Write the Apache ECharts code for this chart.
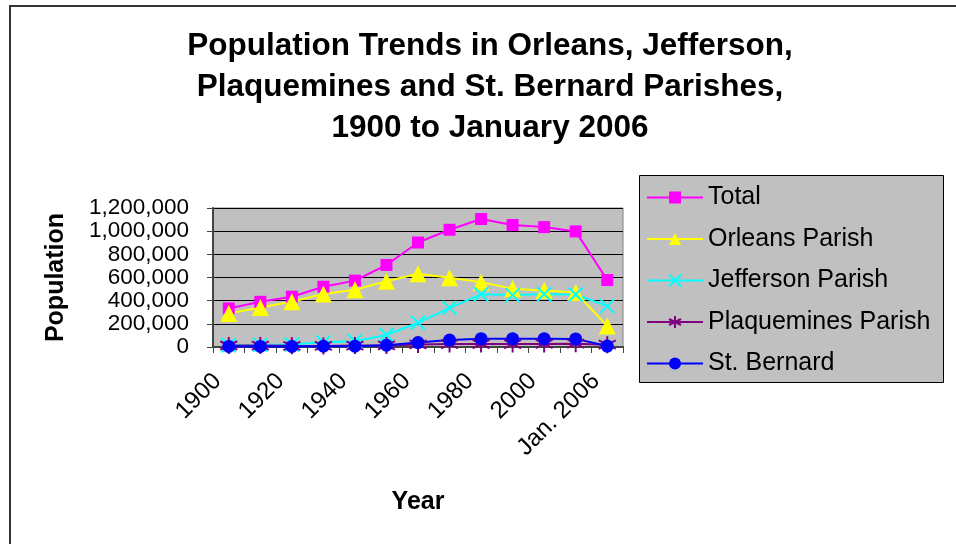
<!DOCTYPE html>
<html>
<head>
<meta charset="utf-8">
<script src="https://cdn.jsdelivr.net/npm/echarts@6/dist/echarts.min.js"></script>
<style>
  html, body { margin: 0; padding: 0; background: #fff; }
  #chart { width: 956px; height: 544px; }
</style>
</head>
<body>
<div id="chart"></div>
<script>
// Census years (every other one labelled on the axis)
const years = ['1900', '1910', '1920', '1930', '1940', '1950', '1960', '1970', '1980', '1990', '2000', '2005', 'Jan. 2006'];

// Population by parish
const total       = [333000, 390000, 434000, 520000, 573000, 708000, 902000, 1012000, 1105000, 1053000, 1035000, 998000, 578000];
const orleans     = [289000, 341000, 390000, 457000, 494000, 568000, 632000, 598000, 560000, 502000, 488000, 470000, 182000];
const jefferson   = [15000, 18000, 22000, 40000, 50000, 104000, 209000, 338000, 455000, 448000, 455000, 453000, 353000];
const plaquemines = [13000, 12500, 10000, 9600, 12000, 14000, 22500, 25000, 26000, 25500, 26800, 29000, 20000];
const stBernard   = [5000, 5300, 5000, 6500, 7300, 15000, 38000, 60000, 72000, 72000, 72000, 70000, 8000];

// Y axis ticks
const yMin = 0, yMax = 1200000, yStep = 200000;

const FONT = '"Liberation Sans", Arial, sans-serif';

// Stroke-only marker shapes
const crossPath = 'path://M0,0L10,10M10,0L0,10';
const starPath = 'path://M5,0L5,10M0.7,2.5L9.3,7.5M0.7,7.5L9.3,2.5';

function lineSeries(name, data, color, symbol, size, strokeOnly) {
  return {
    name: name,
    type: 'line',
    data: data,
    symbol: symbol,
    symbolSize: size,
    showAllSymbol: true,
    lineStyle: { color: color, width: 2 },
    itemStyle: strokeOnly
      ? { color: 'none', borderColor: color, borderWidth: 2 }
      : { color: color, borderWidth: 0 },
    emphasis: { disabled: true },
    animation: false
  };
}

const chart = echarts.init(document.getElementById('chart'), null, { renderer: 'canvas' });

chart.setOption({
  backgroundColor: '#ffffff',
  animation: false,
  title: {
    text: 'Population Trends in Orleans, Jefferson,\nPlaquemines and St. Bernard Parishes,\n1900 to January 2006',
    left: 485,
    top: 21,
    textAlign: 'center',
    textStyle: {
      fontFamily: FONT,
      fontWeight: 'bold',
      fontSize: 31.5,
      lineHeight: 41,
      color: '#000'
    }
  },
  graphic: [
    {
      type: 'polyline',
      z: 100,
      shape: { points: [[10, 560], [10, 6], [960, 6]] },
      style: { stroke: '#333', lineWidth: 2, fill: 'none' }
    },
    {
      type: 'rect',
      z: -1,
      shape: { x: 639.5, y: 175.5, width: 304, height: 207 },
      style: { fill: '#C0C0C0', stroke: '#000', lineWidth: 1 }
    }
  ],
  legend: {
    orient: 'vertical',
    left: 641,
    top: 180,
    itemWidth: 56,
    itemHeight: 15,
    itemGap: 16.5,
    textStyle: { fontFamily: FONT, fontSize: 25, color: '#000', lineHeight: 24 },
    data: ['Total', 'Orleans Parish', 'Jefferson Parish', 'Plaquemines Parish', 'St. Bernard']
  },
  grid: {
    left: 213,
    right: 333,
    top: 208,
    bottom: 197,
    show: true,
    backgroundColor: '#C0C0C0',
    borderColor: '#808080',
    borderWidth: 1
  },
  xAxis: {
    type: 'category',
    data: years,
    boundaryGap: true,
    name: 'Year',
    nameLocation: 'middle',
    nameGap: 143,
    nameTextStyle: { fontFamily: FONT, fontWeight: 'bold', fontSize: 25, color: '#000' },
    axisLine: { lineStyle: { color: '#444', width: 2 } },
    axisTick: { show: true, interval: 0, length: 6, lineStyle: { color: '#444', width: 1 } },
    axisLabel: {
      interval: 1,
      rotate: 45,
      margin: 19,
      padding: [0, 16, 0, 0],
      fontFamily: FONT,
      fontSize: 24,
      color: '#000'
    },
    splitLine: { show: false }
  },
  yAxis: {
    type: 'value',
    min: yMin,
    max: yMax,
    interval: yStep,
    name: 'Population',
    nameLocation: 'middle',
    nameGap: 144,
    nameRotate: 90,
    nameTextStyle: { fontFamily: FONT, fontWeight: 'bold', fontSize: 25, color: '#000' },
    axisLine: { show: true, lineStyle: { color: '#444', width: 2 } },
    axisTick: { show: true, length: 6, lineStyle: { color: '#444', width: 1 } },
    axisLabel: {
      margin: 24,
      showMinLabel: true,
      showMaxLabel: true,
      hideOverlap: false,
      fontFamily: FONT,
      fontSize: 22.5,
      color: '#000',
      formatter: v => v.toLocaleString('en-US')
    },
    splitLine: { show: true, lineStyle: { color: '#000', width: 1 } }
  },
  series: [
    lineSeries('Total', total, '#FF00FF', 'rect', 12, false),
    lineSeries('Orleans Parish', orleans, '#FFFF00', 'triangle', 17, false),
    lineSeries('Jefferson Parish', jefferson, '#00FFFF', crossPath, 14, true),
    lineSeries('Plaquemines Parish', plaquemines, '#800080', starPath, 17, true),
    lineSeries('St. Bernard', stBernard, '#0000FF', 'circle', 13, false)
  ]
});
</script>
</body>
</html>
